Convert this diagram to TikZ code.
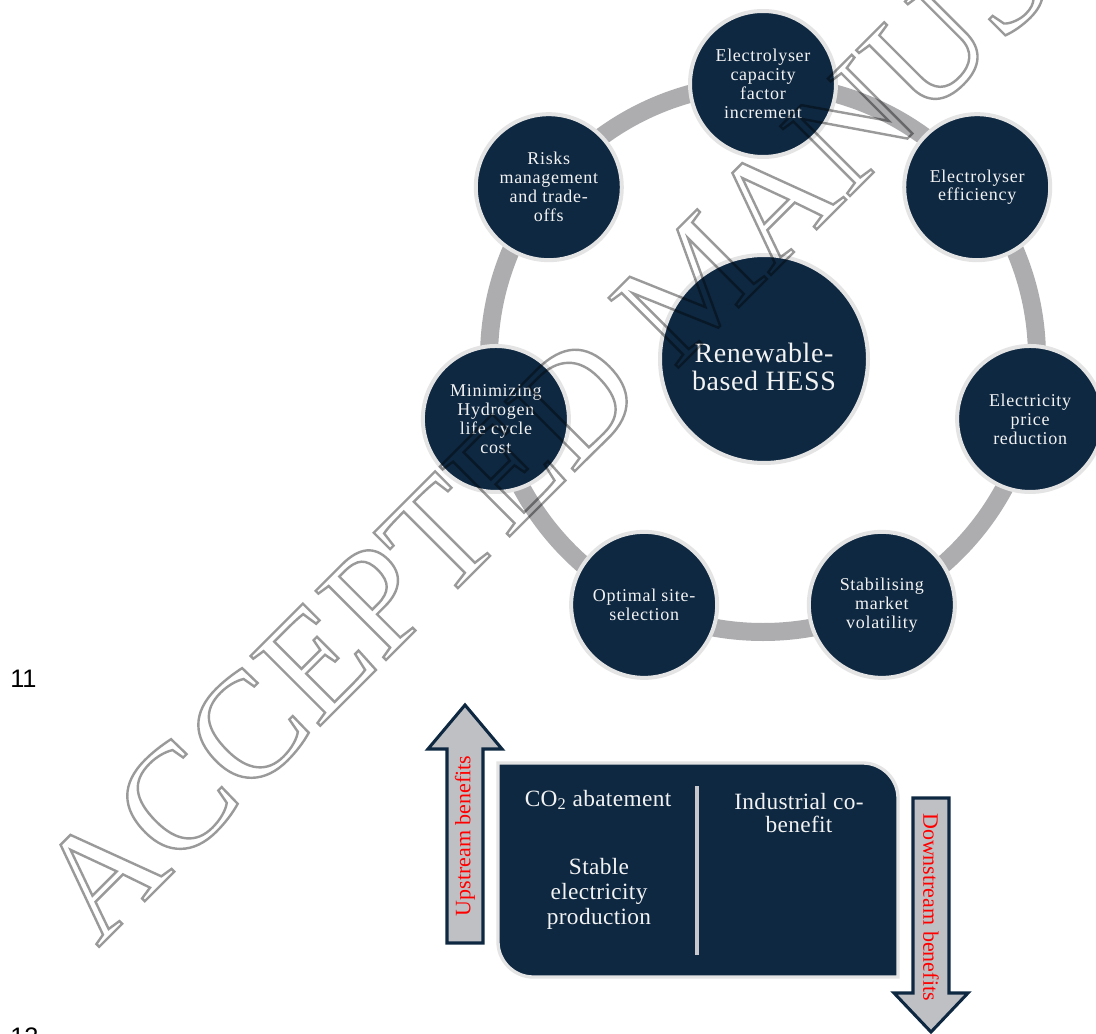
\documentclass[tikz,border=0pt]{standalone}
\usepackage{fontspec}
\setmainfont{Liberation Serif}
\newfontfamily\sansnum{Liberation Sans}
\usetikzlibrary{calc}
\definecolor{navy}{HTML}{0E2841}
\definecolor{ringgray}{HTML}{ADADB0}
\definecolor{rimgray}{HTML}{E4E4E4}
\definecolor{arrowgray}{HTML}{BFC0C4}
\definecolor{divgray}{HTML}{C8C8CC}
\definecolor{wmgray}{HTML}{9A9A9A}
\definecolor{txtwhite}{HTML}{F2F2F2}
\newcommand\wmout[1]{\special{pdf:literal direct 1 Tr 1.8 w}#1\special{pdf:literal direct 0 Tr}}
\tikzset{
  ring/.style={draw=ringgray, line width=13.5pt},
  sat/.style={circle, fill=navy, draw=rimgray, line width=3pt, minimum size=109.5pt, inner sep=0pt,
    text=txtwhite, align=center, font=\fontsize{13.5}{14.2}\selectfont\addfontfeatures{LetterSpace=4}},
  hub/.style={circle, fill=navy, draw=rimgray, line width=3pt, minimum size=156pt, inner sep=0pt},
  hubtext/.style={text=txtwhite, align=center, inner sep=0pt, font=\fontsize{21}{21}\selectfont\addfontfeatures{LetterSpace=2}},
  panel/.style={fill=navy, draw=rimgray, line width=2.5pt},
  paneltext/.style={text=txtwhite, align=center, inner sep=0pt, font=\fontsize{17.5}{18.5}\selectfont\addfontfeatures{LetterSpace=1.5}},
  divider/.style={draw=divgray, line width=3pt},
  benarrow/.style={fill=arrowgray, draw=navy, line width=2.3pt, line join=miter},
  bentext/.style={text=red, inner sep=0pt, font=\fontsize{16.5}{16.5}\selectfont},
  linenum/.style={anchor=base west, inner sep=0pt, font=\sansnum\fontsize{19}{19}\selectfont}
}
\begin{document}
\begin{tikzpicture}[x=0.75pt,y=-0.75pt]
\useasboundingbox (0,0) rectangle (1096,1034);
\fill[white] (0,0) rectangle (1096,1034);
\coordinate (ctr) at (763,358);
% ring
\draw[ring] (ctr) circle[radius=274];
% hub
\node[hub] (hub) at (764,359) {};
\node[hubtext] (hubt) at (764,367) {Renewable-\\based HESS};
% satellites
\node[sat] (s0) at ($(ctr)+(-90:274)$) {Electrolyser\\capacity\\factor\\increment};
\node[sat] (s1) at ($(ctr)+(-38.57:274)$) {Electrolyser\\efficiency};
\node[sat] (s2) at ($(ctr)+(12.86:274)$) {Electricity\\price\\reduction};
\node[sat] (s3) at ($(ctr)+(64.29:274)$) {Stabilising\\market\\volatility};
\node[sat] (s4) at ($(ctr)+(115.71:274)$) {Optimal site-\\selection};
\node[sat] (s5) at ($(ctr)+(167.14:274)$) {Minimizing\\Hydrogen\\life cycle\\cost};
\node[sat] (s6) at ($(ctr)+(218.57:274)$) {Risks\\management\\and trade-\\offs};
% bottom panel
\path[panel] (498,763) -- (863,763) .. controls (882,763) and (898,779) .. (898,798)
  -- (898,977) -- (533,977) .. controls (514,977) and (498,961) .. (498,942) -- cycle;
\coordinate (dtop) at (697,786);
\coordinate (dbot) at (697,955);
\draw[divider] (dtop) -- (dbot);
\node[paneltext] (co2) at (598,800) {CO\textsubscript{2} abatement};
\node[paneltext, font=\fontsize{17.5}{19}\selectfont\addfontfeatures{LetterSpace=1.5}] (stab) at (599,894) {Stable\\electricity\\production};
\node[paneltext, font=\fontsize{17.5}{17.5}\selectfont\addfontfeatures{LetterSpace=1.5}] (ind) at (799,813) {Industrial co-\\benefit};
% benefit arrows
\draw[benarrow] (447,943) -- (447,749) -- (428,749) -- (465,705) -- (502,749) -- (483,749) -- (483,943) -- cycle;
\draw[benarrow] (913,798) -- (949,798) -- (949,993) -- (968,993) -- (931,1032) -- (894,993) -- (913,993) -- cycle;
\node[bentext, rotate=90] (up) at (465,836) {Upstream benefits};
\node[bentext, rotate=-90] (down) at (931,907) {Downstream benefits};
% line numbers
\node[linenum] (n11) at (10,687) {11};
\node[linenum] (n12) at (10,1045) {12};
% watermark
\begin{scope}[blend mode=multiply]
\node[anchor=base west, rotate=45, inner sep=0pt, text=wmgray, font=\fontsize{113}{113}\selectfont] (wm) at (98,948) {\wmout{ACCEPTED MANUSCRIPT}};
\end{scope}
\end{tikzpicture}
\end{document}
